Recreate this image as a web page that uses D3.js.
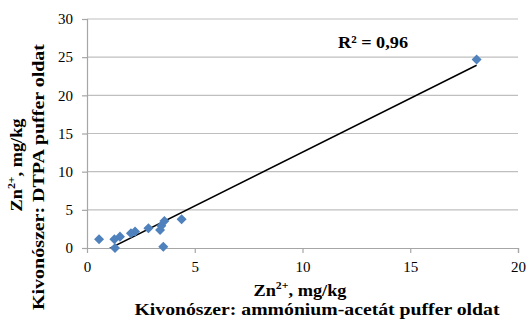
<!DOCTYPE html>
<html>
<head>
<meta charset="utf-8">
<script src="https://cdn.jsdelivr.net/npm/d3@7"></script>
<style>
  body { margin: 0; background: #fff; }
  text { font-family: "Liberation Serif", "Times New Roman", serif; }
</style>
</head>
<body>
<div id="chart"></div>
<script>
// measured values (ammónium-acetát vs DTPA), mg/kg
const xValues = [0.56, 1.27, 1.30, 1.53, 2.04, 2.23, 2.85, 3.39, 3.45, 3.59, 3.54, 4.39, 18.08];
const yValues = [1.14, 1.14, 0.00, 1.49, 1.93, 2.15, 2.59, 2.37, 2.90, 3.55, 0.17, 3.77, 24.7];
const xTicks = [0, 5, 10, 15, 20];
const yTicks = [0, 5, 10, 15, 20, 25, 30];
const rSquaredLabel = "R² = 0,96";

const width = 529, height = 319;
const margin = { top: 19, right: 11, bottom: 71, left: 87 };

const svg = d3.select("#chart")
  .append("svg")
  .attr("width", width)
  .attr("height", height);

const x = d3.scaleLinear().domain([0, 20]).range([margin.left, width - margin.right]);
const y = d3.scaleLinear().domain([0, 30]).range([height - margin.bottom, margin.top]);

// horizontal grid
svg.append("g")
  .selectAll("line")
  .data(yTicks.filter(d => d > 0))
  .enter()
  .append("line")
  .attr("x1", x(0))
  .attr("x2", x(20))
  .attr("y1", d => y(d))
  .attr("y2", d => y(d))
  .attr("stroke", "#bfbfbf")
  .attr("stroke-width", 1.2);

// axes
const xAxis = svg.append("g")
  .attr("transform", `translate(0,${y(0)})`)
  .call(d3.axisBottom(x).tickValues(xTicks).tickSize(5).tickPadding(8));
const yAxis = svg.append("g")
  .attr("transform", `translate(${x(0)},0)`)
  .call(d3.axisLeft(y).tickValues(yTicks).tickSize(5).tickPadding(9));

[xAxis, yAxis].forEach(g => {
  g.attr("font-family", "Liberation Serif").attr("font-size", 15);
  g.select(".domain").attr("stroke", "#a6a6a6").attr("stroke-width", 1.2);
  g.selectAll(".tick line").attr("stroke", "#a6a6a6").attr("stroke-width", 1.2);
  g.selectAll(".tick text")
    .attr("font-family", "Liberation Serif")
    .attr("fill", "#000");
});
xAxis.select(".tick line").remove();

// linear trend line (least squares)
const n = xValues.length;
const mx = d3.mean(xValues), my = d3.mean(yValues);
let sxy = 0, sxx = 0;
for (let i = 0; i < n; i++) {
  sxy += (xValues[i] - mx) * (yValues[i] - my);
  sxx += (xValues[i] - mx) ** 2;
}
const slope = sxy / sxx;
const intercept = my - slope * mx;
const xMin = d3.min(xValues), xMax = d3.max(xValues);

svg.append("clipPath").attr("id", "plotClip")
  .append("rect")
  .attr("x", x(0)).attr("y", y(30))
  .attr("width", x(20) - x(0)).attr("height", y(0) - y(30));

svg.append("line")
  .attr("clip-path", "url(#plotClip)")
  .attr("x1", x(xMin))
  .attr("y1", y(slope * xMin + intercept))
  .attr("x2", x(xMax))
  .attr("y2", y(slope * xMax + intercept))
  .attr("stroke", "#000")
  .attr("stroke-width", 1.5);

// markers
const diamond = d3.symbol().type(d3.symbolDiamond2).size(64);
svg.append("g")
  .selectAll("path")
  .data(d3.zip(xValues, yValues))
  .enter()
  .append("path")
  .attr("d", diamond)
  .attr("transform", d => `translate(${x(d[0])},${y(d[1])})`)
  .attr("fill", "#4f81bd");

// R² label
svg.append("text")
  .attr("x", 338)
  .attr("y", 48)
  .attr("font-size", 17)
  .attr("font-weight", "bold")
  .attr("textLength", 70)
  .attr("lengthAdjust", "spacingAndGlyphs")
  .text(rSquaredLabel);

// axis titles
function zincTitle(sel) {
  sel.append("tspan").text("Zn");
  sel.append("tspan").attr("font-size", 11).attr("dy", -7).text("2+");
  sel.append("tspan").attr("dy", 7).text(", mg/kg");
}

const xTitle = svg.append("text")
  .attr("x", 300).attr("y", 296)
  .attr("text-anchor", "middle")
  .attr("font-size", 17).attr("font-weight", "bold")
  .attr("textLength", 93).attr("lengthAdjust", "spacingAndGlyphs");
zincTitle(xTitle);

svg.append("text")
  .attr("x", 317).attr("y", 315)
  .attr("text-anchor", "middle")
  .attr("font-size", 16).attr("font-weight", "bold")
  .attr("textLength", 365).attr("lengthAdjust", "spacingAndGlyphs")
  .text("Kivonószer: ammónium-acetát puffer oldat");

const yTitle = svg.append("text")
  .attr("transform", "translate(22,165) rotate(-90)")
  .attr("text-anchor", "middle")
  .attr("font-size", 17).attr("font-weight", "bold")
  .attr("textLength", 93).attr("lengthAdjust", "spacingAndGlyphs");
zincTitle(yTitle);

svg.append("text")
  .attr("transform", "translate(44,177) rotate(-90)")
  .attr("text-anchor", "middle")
  .attr("font-size", 16).attr("font-weight", "bold")
  .attr("textLength", 266).attr("lengthAdjust", "spacingAndGlyphs")
  .text("Kivonószer: DTPA puffer oldat");
</script>
</body>
</html>
